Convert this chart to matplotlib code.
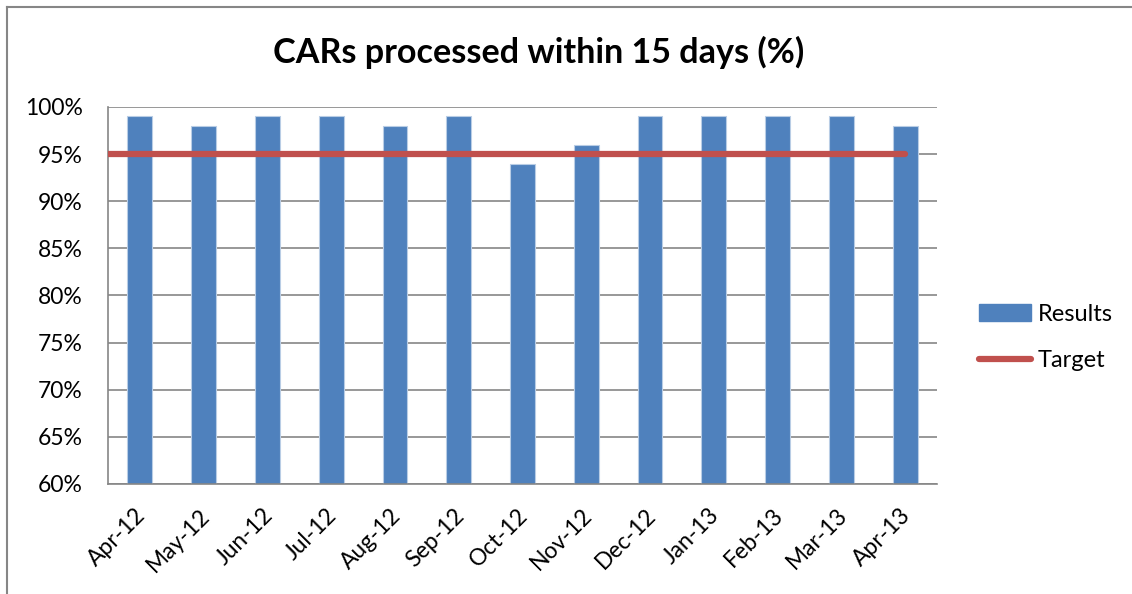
import numpy as np
import matplotlib.pyplot as plt
import matplotlib.transforms as mtransforms
from matplotlib.lines import Line2D
from matplotlib.ticker import PercentFormatter

plt.rcParams['font.family'] = ['Lato', 'DejaVu Sans']

months = ['Apr-12', 'May-12', 'Jun-12', 'Jul-12', 'Aug-12', 'Sep-12', 'Oct-12',
          'Nov-12', 'Dec-12', 'Jan-13', 'Feb-13', 'Mar-13', 'Apr-13']
results = [99, 98, 99, 99, 98, 99, 94, 96, 99, 99, 99, 99, 98]
target = 95
yticks = np.arange(60, 101, 5)

fig = plt.figure(figsize=(11.32, 5.94), dpi=100)
ax = fig.add_axes([0.0954, 0.1852, 0.7323, 0.6347])

x = np.arange(len(months))
ax.bar(x, results, width=0.39, color='#4F81BD', edgecolor='#B9CDE5', linewidth=0.8,
       label='Results', zorder=2)
ax.hlines(target, -0.5, len(months) - 1, color='#C0504D', linewidth=4.5,
          capstyle='round', label='Target', zorder=3)

ax.set_xlim(-0.5, len(months) - 0.5)
ax.set_ylim(60, 100)
ax.set_yticks(yticks)
ax.yaxis.set_major_formatter(PercentFormatter(decimals=0))
ax.set_xticks(x)
ax.set_xticklabels(months, rotation=45, ha='right', rotation_mode='anchor')
ax.tick_params(axis='both', length=0, labelsize=16.5)
ax.tick_params(axis='x', pad=15)
ax.tick_params(axis='y', pad=18)
shift = mtransforms.ScaledTranslation(-0.05, 0, fig.dpi_scale_trans)
for lbl in ax.get_xticklabels():
    lbl.set_transform(lbl.get_transform() + shift)
ax.grid(axis='y', color='#868686', linewidth=1.2, zorder=0)
ax.set_axisbelow(True)
for s in ['top', 'right']:
    ax.spines[s].set_visible(False)
for s in ['left', 'bottom']:
    ax.spines[s].set_color('#868686')
    ax.spines[s].set_linewidth(1.2)

fig.text(0.476, 0.912, 'CARs processed within 15 days (%)', ha='center', va='center',
         fontsize=24.6, fontweight='bold')

handles = [plt.Rectangle((0, 0), 1, 1, color='#4F81BD'),
           Line2D([0], [0], color='#C0504D', linewidth=4.5, solid_capstyle='round')]
fig.legend(handles, ['Results', 'Target'], loc='center left',
           bbox_to_anchor=(0.846, 0.432), frameon=False, fontsize=17,
           handlelength=2.2, handleheight=0.7, handletextpad=0.3, labelspacing=1.06)

# chart frame (top and left edges visible in the crop)
fig.add_artist(Line2D([0.0062, 1.0], [0.9882, 0.9882], color='#868686', linewidth=1.5))
fig.add_artist(Line2D([0.0062, 0.0062], [0.0, 0.9882], color='#868686', linewidth=1.5))

fig.savefig('out.png', dpi=100)
